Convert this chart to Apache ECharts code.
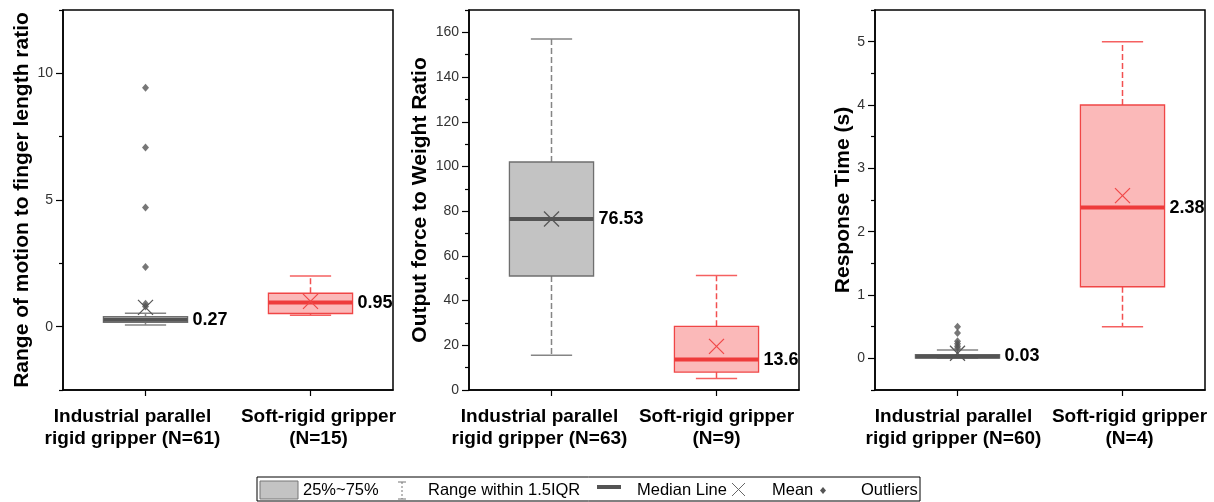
<!DOCTYPE html>
<html>
<head>
<meta charset="utf-8">
<script src="https://cdn.jsdelivr.net/npm/echarts@6/dist/echarts.min.js"></script>
<style>
  html, body { margin: 0; padding: 0; background: #fff; }
  #chart { width: 1214px; height: 502px; }
</style>
</head>
<body>
<div id="chart"></div>
<script>
// ---------- DATA ----------
const categories1 = ['Industrial parallel\nrigid gripper (N=61)', 'Soft-rigid gripper\n(N=15)'];
const categories2 = ['Industrial parallel\nrigid gripper (N=63)', 'Soft-rigid gripper\n(N=9)'];
const categories3 = ['Industrial parallel\nrigid gripper (N=60)', 'Soft-rigid gripper\n(N=4)'];

// [lowWhisker, Q1, median, Q3, highWhisker]
const romStats = [[0.07, 0.17, 0.27, 0.40, 0.53], [0.45, 0.52, 0.95, 1.32, 2.0]];
const romMeans = [0.76, 1.0];
const romOutliers = [9.43, 7.07, 4.70, 2.36, 0.90, 0.80];

const forceStats = [[15.5, 51, 76.53, 102, 157], [5.2, 8, 13.6, 28.5, 51.2]];
const forceMeans = [76.5, 19.5];
const forceOutliers = [];

const timeStats = [[0.0, 0.005, 0.03, 0.06, 0.13], [0.5, 1.13, 2.38, 4.0, 5.0]];
const timeMeans = [0.08, 2.57];
const timeOutliers = [0.50, 0.40, 0.27, 0.23, 0.19, 0.16];

const yNames = ['Range of motion to finger length ratio', 'Output force to Weight Ratio', 'Response Time (s)'];
const majorTicks1 = [0, 5, 10];
const minorTicks1 = [-2.5, 2.5, 7.5, 12.5];
const majorTicks2 = [0, 20, 40, 60, 80, 100, 120, 140, 160];
const minorTicks2 = [10, 30, 50, 70, 90, 110, 130, 150, 170];
const majorTicks3 = [0, 1, 2, 3, 4, 5];
const minorTicks3 = [-0.5, 0.5, 1.5, 2.5, 3.5, 4.5, 5.5];

const legendLabels = ['25%~75%', 'Range within 1.5IQR', 'Median Line', 'Mean', 'Outliers'];

// ---------- STYLE ----------
const FONT = '"Liberation Sans", Arial, sans-serif';
const GRAY = { fill: '#c3c3c3', border: '#6f6f6f', median: '#545454', whisker: '#858585', cap: '#858585', mean: '#555555' };
const RED = { fill: '#fbb9b9', border: '#f04646', median: '#ee3b3b', whisker: '#f25050', cap: '#f56060', mean: '#f04848' };
// horizontal shift of each category label (px; negative = left)
const labelShift = [[-13, 8], [-12, 0], [-4, 7]];

function boxData(stats, means) {
  return stats.map((s, i) => [i, s[0], s[1], s[2], s[3], s[4], means[i]]);
}

function renderBox(params, api) {
  const i = api.value(0);
  const c = i === 0 ? GRAY : RED;
  const band = api.size([1, 0])[0];
  const hw = band * 0.255, cw = band * 0.125, mx = 7.5;
  const P = v => api.coord([i, v]);
  const xc = P(api.value(3))[0];
  const yLo = P(api.value(1))[1], yQ1 = P(api.value(2))[1], yMed = P(api.value(3))[1];
  const yQ3 = P(api.value(4))[1], yHi = P(api.value(5))[1], yMean = P(api.value(6))[1];
  const med = api.value(3);
  const wStyle = { stroke: c.whisker, lineWidth: 1.5, lineDash: [6, 3] };
  const cStyle = { stroke: c.cap, lineWidth: 1.5 };
  return {
    type: 'group',
    children: [
      { type: 'line', shape: { x1: xc, y1: yQ3, x2: xc, y2: yHi }, style: wStyle },
      { type: 'line', shape: { x1: xc, y1: yQ1, x2: xc, y2: yLo }, style: wStyle },
      { type: 'line', shape: { x1: xc - cw, y1: yHi, x2: xc + cw, y2: yHi }, style: cStyle },
      { type: 'line', shape: { x1: xc - cw, y1: yLo, x2: xc + cw, y2: yLo }, style: cStyle },
      { type: 'rect', shape: { x: xc - hw, y: yQ3, width: 2 * hw, height: yQ1 - yQ3 }, style: { fill: c.fill, stroke: c.border, lineWidth: 1.3 } },
      { type: 'line', shape: { x1: xc - hw, y1: yMed, x2: xc + hw, y2: yMed }, style: { stroke: c.median, lineWidth: 4 } },
      { type: 'line', shape: { x1: xc - mx, y1: yMean - mx, x2: xc + mx, y2: yMean + mx }, style: { stroke: c.mean, lineWidth: 1.2 } },
      { type: 'line', shape: { x1: xc - mx, y1: yMean + mx, x2: xc + mx, y2: yMean - mx }, style: { stroke: c.mean, lineWidth: 1.2 } },
      { type: 'text', x: xc + hw + 5, y: yMed, style: { text: String(med), fontSize: 18, fontWeight: 'bold', fontFamily: FONT, fill: '#000', align: 'left', verticalAlign: 'middle' } }
    ]
  };
}

function catData(list, shifts) {
  return list.map((name, i) => {
    const s = shifts[i];
    const pad = s < 0 ? [0, -2 * s, 0, 0] : [0, 0, 0, 2 * s];
    return { value: name, textStyle: { padding: pad } };
  });
}

const lefts = [63, 469, 875];
const nameGaps = [30, 38, 21];
const cats = [categories1, categories2, categories3];
const ranges = [[-2.5, 12.5], [0, 170], [-0.5, 5.5]];
const majors = [majorTicks1, majorTicks2, majorTicks3];
const minors = [minorTicks1, minorTicks2, minorTicks3];
const statsAll = [[romStats, romMeans, romOutliers], [forceStats, forceMeans, forceOutliers], [timeStats, timeMeans, timeOutliers]];

const grid = [], xAxis = [], yAxis = [], series = [];
for (let k = 0; k < 3; k++) {
  grid.push({ left: lefts[k], top: 10, width: 330, height: 380, show: true, borderColor: '#000', borderWidth: 1.5, backgroundColor: '#fff' });
  xAxis.push({
    type: 'category', gridIndex: k, data: catData(cats[k], labelShift[k]),
    axisLine: { show: true, onZero: false, lineStyle: { color: '#000', width: 1.5 } },
    axisTick: { show: true, alignWithLabel: true, length: 6, lineStyle: { color: '#000', width: 1.2 } },
    axisLabel: { interval: 0, margin: 16, fontSize: 19, fontWeight: 'bold', color: '#000', lineHeight: 22, fontFamily: FONT },
    splitLine: { show: false }
  });
  yAxis.push({
    type: 'value', gridIndex: k, min: ranges[k][0], max: ranges[k][1], position: 'left',
    name: yNames[k], nameLocation: 'middle', nameGap: nameGaps[k],
    nameTextStyle: { fontSize: 21, fontWeight: 'bold', color: '#000', fontFamily: FONT },
    axisLine: { show: true, onZero: false, lineStyle: { color: '#000', width: 1.5 } },
    axisTick: { show: true, customValues: majors[k], length: 7, lineStyle: { color: '#000', width: 1.2 } },
    axisLabel: { customValues: majors[k], margin: 10, fontSize: 14, color: '#333', fontFamily: FONT },
    splitLine: { show: false }
  });
  series.push({
    type: 'custom', xAxisIndex: k, yAxisIndex: k,
    data: boxData(statsAll[k][0], statsAll[k][1]),
    encode: { x: 0, y: [1, 2, 3, 4, 5, 6] },
    renderItem: renderBox, silent: true, z: 2
  });
  if (statsAll[k][2].length) {
    series.push({
      type: 'scatter', xAxisIndex: k, yAxisIndex: k,
      data: statsAll[k][2].map(v => [0, v]),
      symbol: 'diamond', symbolSize: [7, 8],
      itemStyle: { color: '#555555' }, silent: true, z: 3
    });
  }
}
// minor tick axes
for (let k = 0; k < 3; k++) {
  yAxis.push({
    type: 'value', gridIndex: k, min: ranges[k][0], max: ranges[k][1], position: 'left',
    axisLine: { show: false, onZero: false },
    axisTick: { show: true, customValues: minors[k], length: 4, lineStyle: { color: '#000', width: 1.2 } },
    axisLabel: { show: false },
    splitLine: { show: false }
  });
}

// legend graphic
const LY = 490;
const legendText = (x, t) => ({ type: 'text', x: x, y: LY, style: { text: t, fontSize: 16.5, fontFamily: FONT, fill: '#000', verticalAlign: 'middle', align: 'left' } });
const graphic = [
  { type: 'rect', shape: { x: 257, y: 477, width: 663, height: 24 }, style: { fill: '#fff', stroke: '#000', lineWidth: 1 } },
  { type: 'rect', shape: { x: 260, y: 481, width: 38, height: 18 }, style: { fill: '#c3c3c3', stroke: '#777', lineWidth: 1 } },
  legendText(303, legendLabels[0]),
  { type: 'line', shape: { x1: 402, y1: 482, x2: 402, y2: 499 }, style: { stroke: '#777', lineWidth: 1, lineDash: [2, 2] } },
  { type: 'line', shape: { x1: 398, y1: 482, x2: 406, y2: 482 }, style: { stroke: '#777', lineWidth: 1 } },
  { type: 'line', shape: { x1: 398, y1: 499, x2: 406, y2: 499 }, style: { stroke: '#777', lineWidth: 1 } },
  legendText(428, legendLabels[1]),
  { type: 'line', shape: { x1: 597, y1: 487, x2: 621, y2: 487 }, style: { stroke: '#545454', lineWidth: 4 } },
  legendText(637, legendLabels[2]),
  { type: 'line', shape: { x1: 732, y1: 483, x2: 745, y2: 496 }, style: { stroke: '#666', lineWidth: 1 } },
  { type: 'line', shape: { x1: 732, y1: 496, x2: 745, y2: 483 }, style: { stroke: '#666', lineWidth: 1 } },
  legendText(772, legendLabels[3]),
  { type: 'polygon', shape: { points: [[823, 487], [826, 490.5], [823, 494], [820, 490.5]] }, style: { fill: '#555' } },
  legendText(861, legendLabels[4])
];

const chart = echarts.init(document.getElementById('chart'), null, { renderer: 'canvas' });
chart.setOption({
  animation: false,
  backgroundColor: '#fff',
  textStyle: { fontFamily: FONT },
  grid, xAxis, yAxis, series, graphic
});
</script>
</body>
</html>
